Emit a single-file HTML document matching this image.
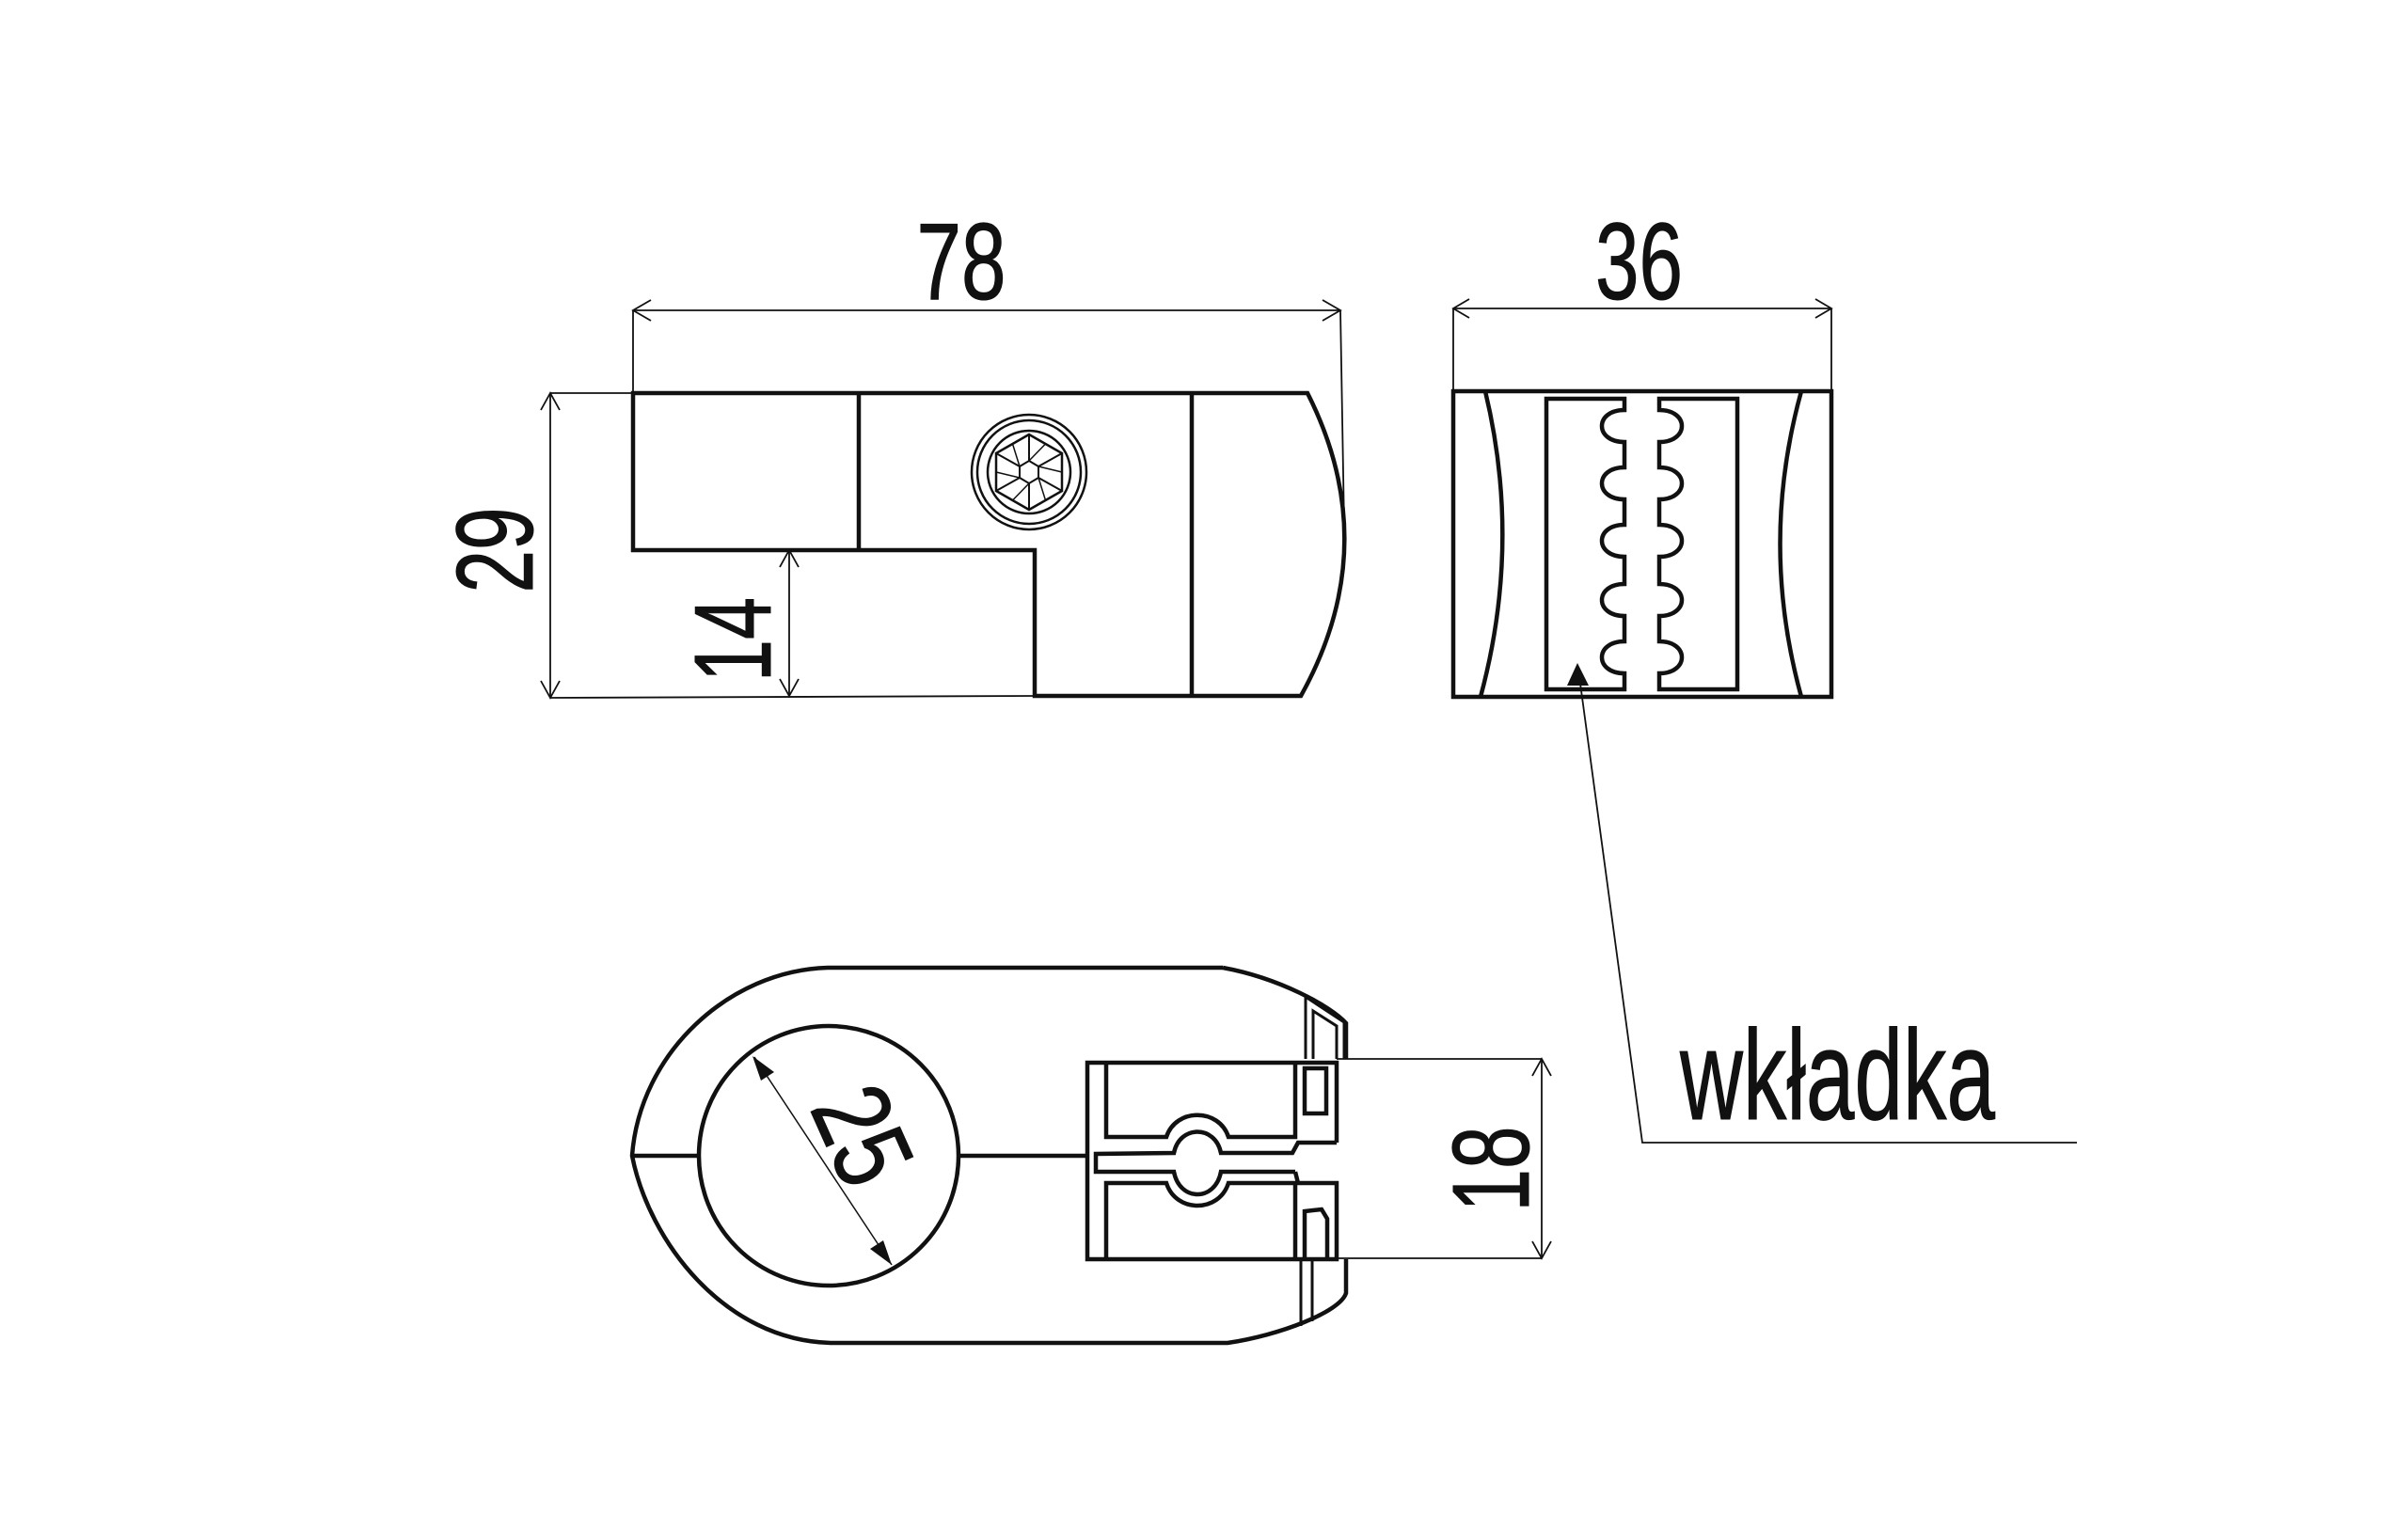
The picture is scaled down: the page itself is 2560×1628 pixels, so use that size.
<!DOCTYPE html>
<html><head><meta charset="utf-8"><style>
html,body{margin:0;padding:0;background:#fff}
svg{display:block}
text{font-family:"Liberation Sans",sans-serif;fill:#111}
</style></head><body>
<svg width="2560" height="1628" viewBox="0 0 2560 1628" xmlns="http://www.w3.org/2000/svg">
<rect width="2560" height="1628" fill="#fff"/>
<g fill="none" stroke="#111" stroke-linejoin="miter">

<!-- ===== FRONT VIEW ===== -->
<g stroke-width="4.5">
<path d="M673,418 L1390,418 Q1472,580 1383,740 L1100,740 L1100,585 L673,585 Z"/>
<line x1="913" y1="418" x2="913" y2="585"/>
<line x1="1267" y1="418" x2="1267" y2="740"/>
</g>
<!-- screw -->
<g stroke-width="2.5">
<circle cx="1094" cy="502" r="61"/>
<circle cx="1094" cy="502" r="55"/>
<circle cx="1094" cy="502" r="44"/>
<polygon points="1094,462 1129,482 1129,522 1094,542 1059,522 1059,482"/>
<polygon points="1094,490 1104,496 1104,508 1094,514 1084,508 1084,496" stroke-width="2"/>
<path d="M1094,462 L1094,490 M1129,482 L1104,496 M1129,522 L1104,508 M1094,542 L1094,514 M1059,522 L1084,508 M1059,482 L1084,496" stroke-width="2"/>
<path d="M1094,490 L1111.5,472 M1104,496 L1129,502 M1104,508 L1111.5,532 M1094,514 L1076.5,532 M1084,508 L1059,502 M1084,496 L1076.5,472" stroke-width="1.5"/>
</g>
<!-- dims front -->
<g stroke-width="1.8">
<line x1="673" y1="330" x2="673" y2="418"/>
<line x1="1425" y1="330" x2="1429" y2="560"/>
<line x1="673" y1="330" x2="1425" y2="330"/>
<path d="M692,319 L673,330 L692,341 M1406,319 L1425,330 L1406,341"/>
<line x1="585" y1="418" x2="673" y2="418"/>
<line x1="585" y1="742" x2="1100" y2="740"/>
<line x1="585" y1="418" x2="585" y2="742"/>
<path d="M575,436 L585,418 L595,436 M575,724 L585,742 L595,724"/>
<line x1="839" y1="585" x2="839" y2="740"/>
<path d="M829,603 L839,585 L849,603 M829,722 L839,740 L849,722"/>
</g>
<text x="1022" y="318" font-size="116" text-anchor="middle" textLength="95" lengthAdjust="spacingAndGlyphs">78</text>
<g transform="translate(525,585) rotate(-90)"><text x="0" y="41" font-size="116" text-anchor="middle" textLength="91" lengthAdjust="spacingAndGlyphs">29</text></g>
<g transform="translate(778,680) rotate(-90)"><text x="0" y="41" font-size="116" text-anchor="middle" textLength="90" lengthAdjust="spacingAndGlyphs">14</text></g>

<!-- ===== SIDE VIEW ===== -->
<g stroke-width="4.5">
<rect x="1545" y="416" width="402" height="325"/>
<path d="M1579,416 Q1618,578 1574,741"/>
<path d="M1915,416 Q1870,578 1915,741"/>
<path d="M1727,424 L1644,424 L1644,733 L1727,733 L1727,716
 C1695,716 1695,682 1727,682 L1727,655
 C1695,655 1695,621 1727,621 L1727,592
 C1695,592 1695,558 1727,558 L1727,531
 C1695,531 1695,497 1727,497 L1727,470
 C1695,470 1695,436 1727,436 Z"/>
<path d="M1764,424 L1847,424 L1847,733 L1764,733 L1764,716
 C1796,716 1796,682 1764,682 L1764,655
 C1796,655 1796,621 1764,621 L1764,592
 C1796,592 1796,558 1764,558 L1764,531
 C1796,531 1796,497 1764,497 L1764,470
 C1796,470 1796,436 1764,436 Z"/>
</g>
<g stroke-width="1.8">
<line x1="1545" y1="328" x2="1947" y2="328"/>
<line x1="1545" y1="328" x2="1545" y2="416"/>
<line x1="1947" y1="328" x2="1947" y2="416"/>
<path d="M1562,318 L1545,328 L1562,338 M1930,318 L1947,328 L1930,338"/>
<polyline points="1678,712 1746,1215 2208,1215"/>
</g>
<polygon points="1677,705 1666,729 1689,729" fill="#111" stroke="none"/>
<text x="1696" y="318" font-size="116" textLength="93" lengthAdjust="spacingAndGlyphs">36</text>
<text x="1786" y="1190" font-size="136" textLength="335" lengthAdjust="spacingAndGlyphs">wkładka</text>

<!-- ===== TOP VIEW ===== -->
<g stroke-width="4.5">
<path d="M1300,1029 L880,1029 C775,1032 680,1120 672,1229 C690,1320 770,1425 883,1428 L1305,1428 C1360,1420 1425,1395 1431,1375 L1431,1339"/>
<path d="M1300,1029 C1360,1040 1415,1070 1431,1088 L1431,1126"/>
<circle cx="881" cy="1229" r="138"/>
<line x1="672" y1="1229" x2="743" y2="1229"/>
<line x1="1019" y1="1229" x2="1156" y2="1229"/>
<!-- insert -->
<path d="M1421,1215 L1421,1130 L1156,1130 L1156,1339 L1421,1339 L1421,1258 L1380,1258 L1377,1246"/>
<path d="M1176,1130 L1176,1209 L1240,1209 C1250,1178 1296,1178 1306,1209 L1377,1209 L1377,1130"/>
<path d="M1421,1215 L1380,1215 L1374,1226 L1298,1226 C1292,1196 1254,1196 1248,1226 L1165,1227 L1165,1246 L1248,1246 C1254,1278 1292,1278 1298,1246 L1377,1246"/>
<path d="M1176,1339 L1176,1258 L1240,1258 C1250,1290 1296,1290 1306,1258 L1377,1258 L1377,1339"/>
<rect x="1387" y="1136" width="23" height="48"/>
<path d="M1387,1339 L1387,1288 L1405,1286 L1411,1296 L1411,1339"/>
</g>
<g stroke-width="3">
<path d="M1388,1126 L1388,1060 L1429,1087 L1429,1126"/>
<path d="M1396,1126 L1396,1075 L1421,1091 L1421,1126"/>
<path d="M1383,1339 L1383,1410"/>
<path d="M1395,1339 L1395,1405"/>
</g>
<!-- dims top view -->
<g stroke-width="1.8">
<line x1="1421" y1="1126" x2="1639" y2="1126"/>
<line x1="1421" y1="1338" x2="1639" y2="1338"/>
<line x1="1639" y1="1126" x2="1639" y2="1338"/>
<path d="M1629,1144 L1639,1126 L1649,1144 M1629,1320 L1639,1338 L1649,1320"/>
<line x1="802" y1="1124" x2="948" y2="1345" stroke-width="1.5"/>
</g>
<polygon points="800,1123 823,1140 809,1149" fill="#111" stroke="none"/>
<polygon points="948,1345 925,1328 939,1319" fill="#111" stroke="none"/>
<g transform="translate(1584,1243) rotate(-90)"><text x="0" y="41" font-size="116" text-anchor="middle" textLength="91" lengthAdjust="spacingAndGlyphs">18</text></g>
<g transform="translate(918,1207) rotate(66)"><text x="0" y="41" font-size="116" text-anchor="middle" textLength="100" lengthAdjust="spacingAndGlyphs">25</text></g>
</g>
</svg>
</body></html>
